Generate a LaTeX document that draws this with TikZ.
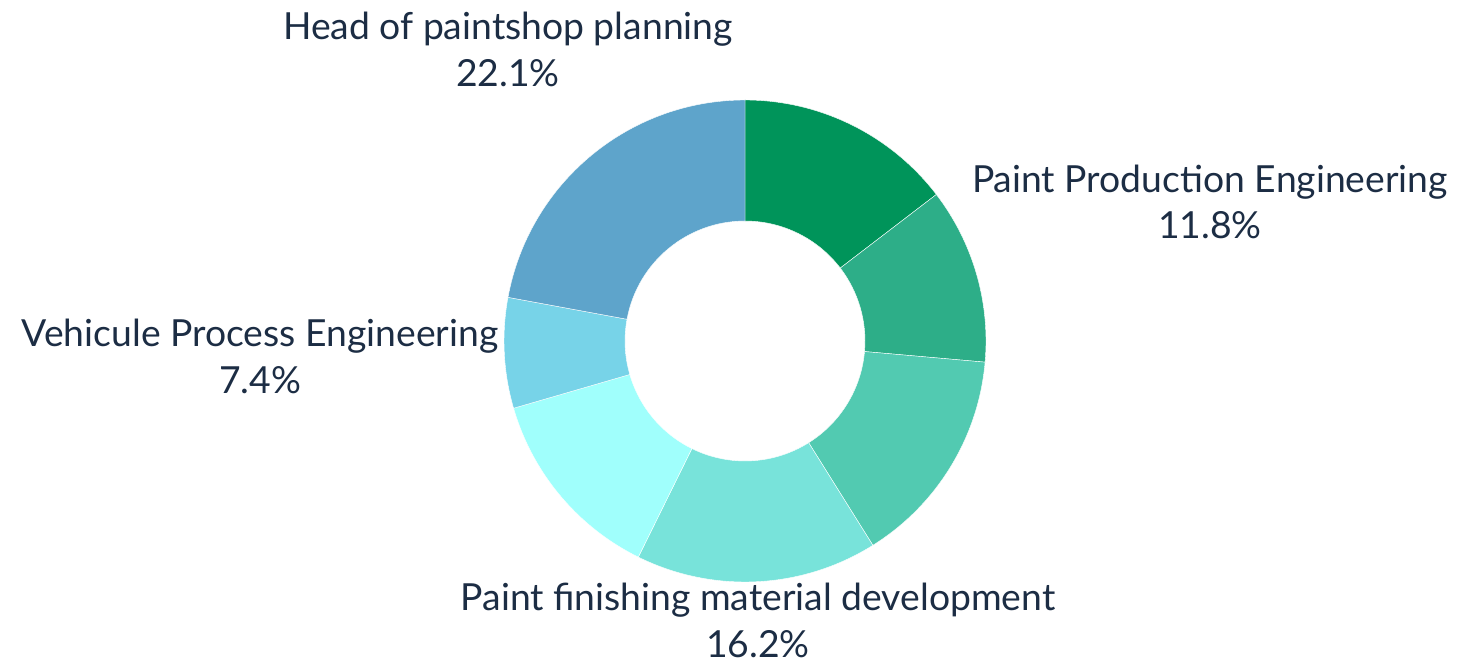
\documentclass[tikz,border=0pt]{standalone}
\usepackage{fontspec}
\setmainfont{Lato}
\usepackage{xcolor}
\definecolor{texte}{HTML}{1C2D44}
\definecolor{part1}{HTML}{00945A}
\definecolor{part2}{HTML}{2DAE88}
\definecolor{part3}{HTML}{52CAB1}
\definecolor{part4}{HTML}{78E3DA}
\definecolor{part5}{HTML}{A0FFFC}
\definecolor{part6}{HTML}{77D3E8}
\definecolor{part7}{HTML}{5EA4CB}

\begin{document}
\begin{tikzpicture}[x=0.5pt, y=0.5pt]
			\tikzset{etiquette/.style={anchor=base, text=texte, inner sep=0pt, font=\fontsize{18.65}{22}\selectfont},
			part/.style={draw=white, line width=0.2pt}};

			\useasboundingbox (0, 0) rectangle (1460, 670);
			\coordinate (c) at (745, 329);

			% anneau : angle de depart / angle d'arrivee / couleur
			\foreach \a/\b/\coul in {90/37.44/part1, 37.44/-5.04/part2, -5.04/-57.96/part3,
				-57.96/-116.28/part4, -116.28/-163.8/part5, -163.8/-190.44/part6, -190.44/-270/part7}{
				\fill[part, fill=\coul] ([shift={(\a:241)}]c) arc[start angle=\a, end angle=\b, radius=241]
				-- ([shift={(\b:120)}]c) arc[start angle=\b, end angle=\a, radius=120] -- cycle;
			}

			\node[etiquette] (head) at (508, 630) {Head of paintshop planning};
			\node[etiquette] (headpct) at (508, 583) {22.1\%};
			\node[etiquette] (prod) at (1210, 477) {Paint Production Engineering};
			\node[etiquette] (prodpct) at (1210, 431) {11.8\%};
			\node[etiquette] (vehic) at (260, 323) {Vehicule Process Engineering};
			\node[etiquette] (vehicpct) at (260, 277) {7.4\%};
			\node[etiquette] (fini) at (758, 60) {Paint finishing material development};
			\node[etiquette] (finipct) at (758, 13) {16.2\%};

		\end{tikzpicture}
\end{document}
